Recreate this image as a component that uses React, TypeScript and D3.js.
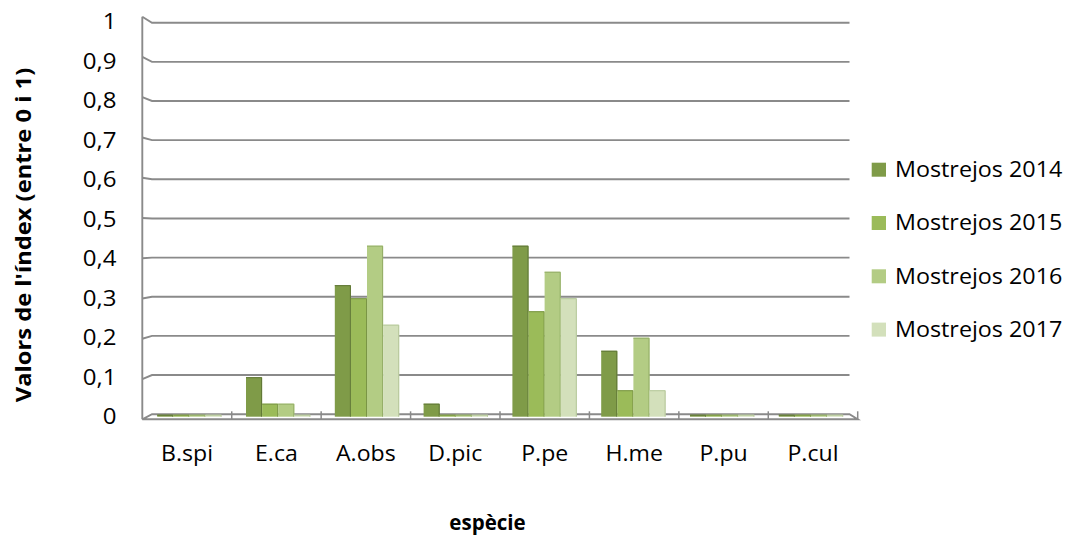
import React from "react";
import * as d3 from "d3";

const categories = ["B.spi", "E.ca", "A.obs", "D.pic", "P.pe", "H.me", "P.pu", "P.cul"];
const seriesNames = ["Mostrejos 2014", "Mostrejos 2015", "Mostrejos 2016", "Mostrejos 2017"];
const values2014 = [0, 0.1, 0.333, 0.033, 0.433, 0.167, 0, 0];
const values2015 = [0, 0.033, 0.3, 0, 0.267, 0.067, 0, 0];
const values2016 = [0, 0.033, 0.433, 0, 0.367, 0.2, 0, 0];
const values2017 = [0, 0, 0.233, 0, 0.3, 0.067, 0, 0];
const yTicks = [0, 0.1, 0.2, 0.3, 0.4, 0.5, 0.6, 0.7, 0.8, 0.9, 1];
const yTickLabels = ["0", "0,1", "0,2", "0,3", "0,4", "0,5", "0,6", "0,7", "0,8", "0,9", "1"];
const yTitle = "Valors de l'índex (entre 0 i 1)";
const xTitle = "espècie";

const seriesValues = [values2014, values2015, values2016, values2017];
const colors = ["#7f9b48", "#9bbb59", "#b3cc84", "#d3e0bb"];
const edgeColors = ["#5f7636", "#7a9545", "#93ad66", "#b5c79a"];

const FONT = "'Open Sans', 'DejaVu Sans', sans-serif";
const GRID = "#8a8a8a";

function Txt({ x, y, anchor = "start", size = 20.5, bold = false, sx = 1.1, rotate = false, children }: any) {
  return (
    <text
      transform={`translate(${x},${y})${rotate ? " rotate(-90)" : ""} scale(${sx},1)`}
      textAnchor={anchor}
      fontSize={size}
      fontWeight={bold ? 700 : 400}
      fontFamily={FONT}
      fill="#000"
    >
      {children}
    </text>
  );
}

export default function App() {
  const W = 1069, H = 537;
  const xFront = d3.scaleBand<string>().domain(categories).range([142.3, 857.7]);
  const xBar = d3.scaleBand<string>().domain(categories).range([145, 855.4]);
  const xSeries = d3.scaleBand<string>().domain(seriesNames).range([0, xBar.bandwidth()]).paddingInner(0).paddingOuter(0.758);
  const yBack = d3.scaleLinear().domain([0, 1]).range([414.2, 22.7]);
  const yFront = d3.scaleLinear().domain([0, 1]).range([419.3, 16.7]);
  const yBar = d3.scaleLinear().domain([0, 1]).range([416.7, 21.7]);
  const wallX0 = 142.3, wallX1 = 152, backX1 = 849.5;
  const floorFrontX1 = xFront.range()[1];

  return (
    <svg width={W} height={H} style={{ position: "absolute", left: 0, top: 0, background: "#fff" }}>
      {yTicks.filter((v) => v > 0).map((v) => (
        <path key={v} d={`M${wallX0},${yFront(v)}L${wallX1},${yBack(v)}L${backX1},${yBack(v)}`}
          fill="none" stroke={GRID} strokeWidth={1.9} />
      ))}
      <path d={`M${wallX0},${yFront(0)}L${wallX1},${yBack(0)}L${backX1},${yBack(0)}L${floorFrontX1},${yFront(0)}Z`}
        fill="none" stroke={GRID} strokeWidth={1.9} />
      <line x1={wallX0} x2={wallX0} y1={yFront(1)} y2={yFront(0)} stroke={GRID} strokeWidth={1.9} />
      {categories.map((c) => (
        <line key={c} x1={xFront(c)! + xFront.bandwidth()} x2={xFront(c)! + xFront.bandwidth()}
          y1={yFront(0) - 8} y2={yFront(0)} stroke={GRID} strokeWidth={1.5} />
      ))}
      {categories.map((c, ci) => (
        <g key={c}>
          {seriesNames.map((s, si) => {
            const v = seriesValues[si][ci];
            const x = xBar(c)! + xSeries(s)!;
            const w = xSeries.bandwidth();
            const y0 = yBar(0);
            const y1 = Math.min(yBar(v), y0 - 2);
            return (
              <g key={s}>
                <rect x={x} y={y1} width={w} height={y0 - y1} fill={colors[si]} />
                <path d={`M${x},${y1 + 0.5}L${x + w - 0.5},${y1 + 0.5}L${x + w - 0.5},${y0}`}
                  fill="none" stroke={edgeColors[si]} strokeWidth={1} />
              </g>
            );
          })}
        </g>
      ))}
      {yTicks.map((v, i) => (
        <Txt key={v} x={116.5} y={yBar(v) + 7.6} anchor="end" size={21.5} sx={1.12}>{yTickLabels[i]}</Txt>
      ))}
      {categories.map((c) => (
        <Txt key={c} x={xFront(c)! + xFront.bandwidth() / 2} y={461} anchor="middle" size={22} sx={1.05}>{c}</Txt>
      ))}
      {seriesNames.map((s, i) => (
        <g key={s}>
          <rect x={871.7} y={162.7 + i * 53.3} width={14.3} height={14} fill={colors[i]} />
          <Txt x={895} y={177 + i * 53.3} size={21} sx={1.11}>{s}</Txt>
        </g>
      ))}
      <Txt x={31} y={235} anchor="middle" bold rotate size={21} sx={1.13}>{yTitle}</Txt>
      <Txt x={487.5} y={530} anchor="middle" bold size={20.5} sx={1}>{xTitle}</Txt>
    </svg>
  );
}
